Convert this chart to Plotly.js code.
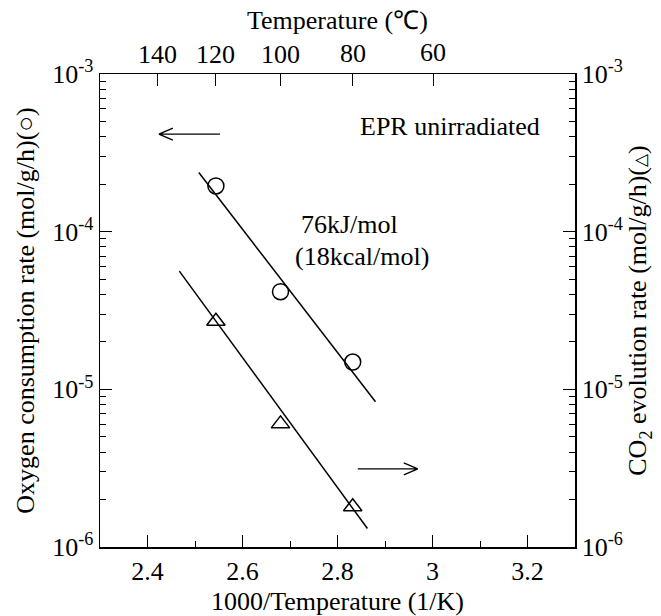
<!DOCTYPE html>
<html>
<head>
<meta charset="utf-8">
<script src="https://cdn.plot.ly/plotly-3.0.1.min.js"></script>
<style>html,body{margin:0;padding:0;background:#fff;}#chart{width:661px;height:616px;}</style>
</head>
<body>
<div id="chart"></div>
<script>
// ---- data ----
const invT = [2.544, 2.680, 2.832];            // 1000/T (1/K) : 120, 100, 80 degC
const oxygenRate = [1.95e-4, 4.16e-5, 1.49e-5]; // mol/g/h (circles, left axis)
const co2Rate = [2.70e-5, 6.04e-6, 1.80e-6];    // mol/g/h (triangles, right axis)
const fitOxyX = [2.508, 2.880];
const fitOxyY = [2.37e-4, 8.34e-6];
const fitCo2X = [2.467, 2.863];
const fitCo2Y = [5.62e-5, 1.31e-6];
const xTickVals = [2.4, 2.6, 2.8, 3.0, 3.2];
const xTickText = ['2.4', '2.6', '2.8', '3', '3.2'];
const xMinorVals = [2.5, 2.7, 2.9, 3.1];
const tempC = [140, 120, 100, 80, 60];
const tempLabelRaise = [0, 0, 0, 1, 2];   // slight vertical stagger of the top labels (px)
const yDecades = [1e-6, 1e-5, 1e-4, 1e-3];
const yDecadeText = ['10<sup>-6</sup>', '10<sup>-5</sup>', '10<sup>-4</sup>', '10<sup>-3</sup>'];

const yMinor = [];
[1e-6, 1e-5, 1e-4].forEach(d => { for (let k = 2; k <= 9; k++) yMinor.push(d * k); });
const topVals = tempC.map(t => 1000 / (t + 273.15));

const FONT = "'Liberation Serif', serif";
const FS = 26;
const black = '#000';
const tf = {family: FONT, size: FS, color: black};

const traces = [
  {x: fitOxyX, y: fitOxyY, mode: 'lines', line: {color: black, width: 1.5}, xaxis: 'x', yaxis: 'y', hoverinfo: 'skip'},
  {x: fitCo2X, y: fitCo2Y, mode: 'lines', line: {color: black, width: 1.5}, xaxis: 'x', yaxis: 'y2', hoverinfo: 'skip'},
  {x: invT, y: oxygenRate, mode: 'markers', marker: {symbol: 'circle-open', size: 16, color: black, line: {width: 1.5}}, xaxis: 'x', yaxis: 'y'},
  {x: invT, y: co2Rate, mode: 'markers', marker: {symbol: 'triangle-up-open', size: 16, color: black, line: {width: 1.5}}, xaxis: 'x', yaxis: 'y2'},
  // empty helper traces so that the top axis and the minor-tick axes are drawn
  {x: [], y: [], mode: 'markers', xaxis: 'x2', yaxis: 'y', hoverinfo: 'skip'},
  {x: [], y: [], mode: 'markers', xaxis: 'x3', yaxis: 'y', hoverinfo: 'skip'},
  {x: [], y: [], mode: 'markers', xaxis: 'x', yaxis: 'y3', hoverinfo: 'skip'},
  {x: [], y: [], mode: 'markers', xaxis: 'x', yaxis: 'y4', hoverinfo: 'skip'}
];

const logMajor = {
  type: 'log', range: [-6, -3], tickvals: yDecades, ticktext: yDecadeText,
  ticks: 'inside', ticklen: 12, tickwidth: 1.2, tickcolor: black,
  showline: true, linecolor: black, linewidth: 1.5, showgrid: false, zeroline: false,
  tickfont: tf
};
const logMinor = {
  type: 'log', range: [-6, -3], tickvals: yMinor, overlaying: 'y', anchor: 'x',
  ticks: 'inside', ticklen: 6, tickwidth: 1, tickcolor: black, showticklabels: false,
  showline: false, showgrid: false, zeroline: false
};

const annotations = [
  {xref: 'x', yref: 'y', x: 2.843, y: Math.log10(4.67e-4), text: 'EPR unirradiated', showarrow: false, xanchor: 'left', yanchor: 'middle', font: tf},
  {xref: 'x', yref: 'y', x: 2.718, y: Math.log10(1.11e-4), text: '76kJ/mol', showarrow: false, xanchor: 'left', yanchor: 'middle', font: tf},
  {xref: 'x', yref: 'y', x: 2.706, y: Math.log10(6.97e-5), text: '(18kcal/mol)', showarrow: false, xanchor: 'left', yanchor: 'middle', font: tf},
  {xref: 'paper', yref: 'paper', x: 0.5, y: 1, yshift: 38, borderpad: 0, text: 'Temperature (℃)', showarrow: false, xanchor: 'center', yanchor: 'bottom', font: tf}
];
tempC.forEach((t, i) => {
  annotations.push({xref: 'x', yref: 'paper', x: topVals[i], y: 1, yshift: 4 + tempLabelRaise[i], borderpad: 0,
    text: String(t), showarrow: false, xanchor: 'center', yanchor: 'bottom', font: tf});
});

const layout = {
  width: 661, height: 616,
  margin: {l: 100, r: 86, t: 74, b: 69},
  paper_bgcolor: '#fff', plot_bgcolor: '#fff',
  showlegend: false,
  font: tf,
  xaxis: {
    range: [2.3, 3.3], tickvals: xTickVals, ticktext: xTickText,
    ticks: 'inside', ticklen: 12, tickwidth: 1.2, tickcolor: black,
    showline: true, linecolor: black, linewidth: 1.5, mirror: true,
    showgrid: false, zeroline: false, tickfont: tf,
    title: {text: '1000/Temperature (1/K)', font: tf, standoff: 10}
  },
  xaxis2: {
    overlaying: 'x', side: 'top', anchor: 'y', range: [2.3, 3.3],
    tickvals: topVals, showticklabels: false,
    ticks: 'inside', ticklen: 12, tickwidth: 1.2, tickcolor: black,
    showline: false, showgrid: false, zeroline: false
  },
  xaxis3: {
    overlaying: 'x', side: 'bottom', anchor: 'y', range: [2.3, 3.3],
    tickvals: xMinorVals, ticks: 'inside', ticklen: 6, tickwidth: 1, tickcolor: black,
    showticklabels: false, showline: false, showgrid: false, zeroline: false
  },
  yaxis: Object.assign({}, logMajor, {
    side: 'left', mirror: true,
    title: {text: 'Oxygen consumption rate (mol/g/h)(○)', font: tf, standoff: 10}
  }),
  yaxis2: Object.assign({}, logMajor, {
    side: 'right', overlaying: 'y', anchor: 'x',
    title: {text: 'CO<sub>2</sub> evolution rate (mol/g/h)(<span style="font-size:17px">△</span>)', font: tf, standoff: 6}
  }),
  yaxis3: Object.assign({}, logMinor, {side: 'left'}),
  yaxis4: Object.assign({}, logMinor, {side: 'right'}),
  annotations: annotations,
  shapes: [
    {type: 'path', xref: 'x', yref: 'paper', xsizemode: 'pixel', ysizemode: 'pixel', xanchor: 2.424, yanchor: 0.873,
     path: 'M0,0 L61,0 M0,0 L14,6 M0,0 L14,-6', line: {color: black, width: 1.3}},
    {type: 'path', xref: 'x', yref: 'paper', xsizemode: 'pixel', ysizemode: 'pixel', xanchor: 2.969, yanchor: 0.165,
     path: 'M0,0 L-60,0 M0,0 L-14,6 M0,0 L-14,-6', line: {color: black, width: 1.3}}
  ]
};

Plotly.newPlot('chart', traces, layout, {staticPlot: true, displayModeBar: false});
</script>
</body>
</html>
